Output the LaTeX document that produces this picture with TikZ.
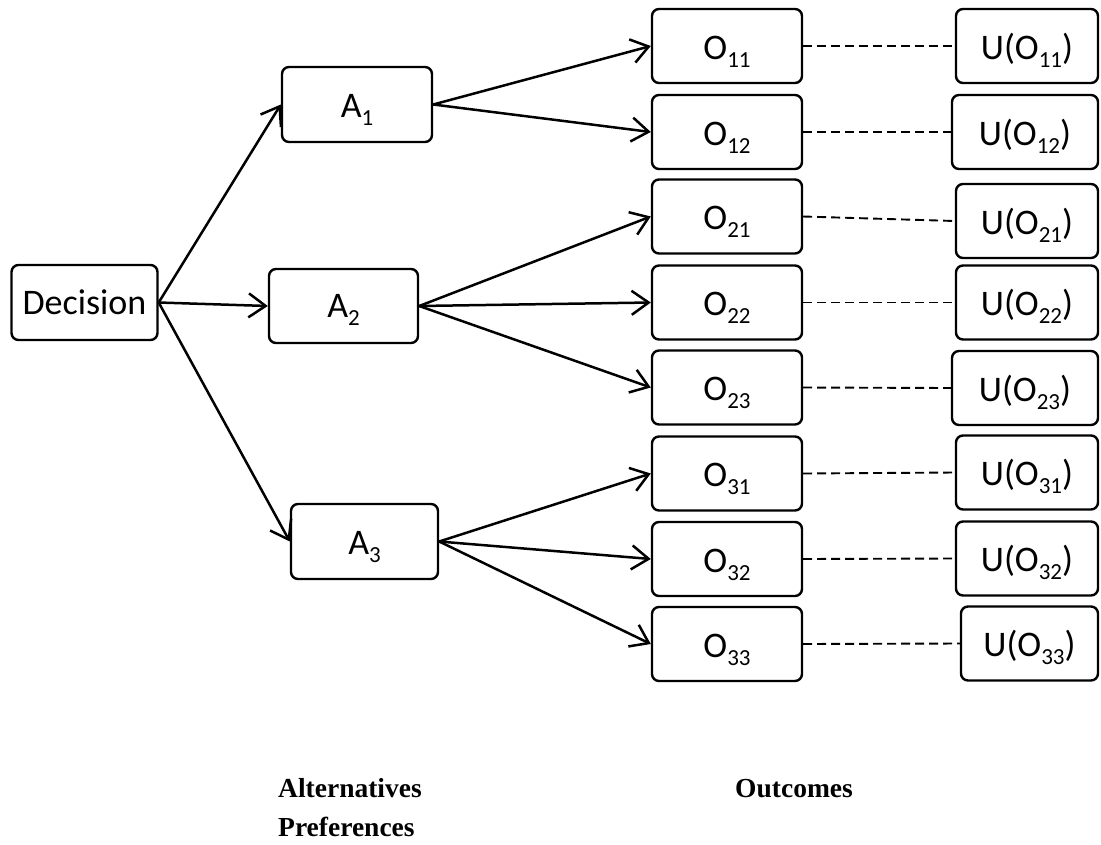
\documentclass[tikz,border=0pt]{standalone}
\usepackage{fontspec}
\setmainfont{Carlito}
\newfontfamily\labelfont{Liberation Serif}
\usetikzlibrary{arrows.meta}

% subscript in the box font
\newcommand{\sbs}[1]{\raisebox{-8pt}{\fontsize{23}{23}\selectfont #1}}

\tikzset{
  box/.style={draw, line width=2.4pt, rounded corners=7pt, inner sep=0pt,
    minimum height=74pt, text height=26pt, text depth=0pt,
    font=\fontsize{36}{40}\selectfont},
  obox/.style={box, minimum width=150pt},
  ubox/.style={box, minimum width=142pt},
  link/.style={line width=2.5pt, -{Straight Barb[length=17pt,width=24pt,line width=2.5pt]}},
  tie/.style={line width=1.9pt, dash pattern=on 9pt off 5pt},
  caption/.style={anchor=base west, inner sep=0pt,
    font=\labelfont\bfseries\fontsize{27.5}{30}\selectfont}
}

\begin{document}
\begin{tikzpicture}[x=1pt,y=-1pt]
\useasboundingbox (0,0) rectangle (1101,844);

% root and alternatives
\node[box, minimum width=146pt, minimum height=75pt, text height=23pt] (dec) at (84.5,302.5) {Decision};
\node[box, minimum width=150pt, minimum height=75pt, text height=25pt] (a1) at (357,104.5) {A\sbs{1}};
\node[box, minimum width=149pt, text height=23pt] (a2) at (343.5,306) {A\sbs{2}};
\node[box, minimum width=147pt, minimum height=75pt, text height=25pt] (a3) at (364.5,541.5) {A\sbs{3}};

% outcomes
\node[obox] (o11) at (727,46)    {O\sbs{11}};
\node[obox] (o12) at (727,132)   {O\sbs{12}};
\node[obox] (o21) at (727,216.5) {O\sbs{21}};
\node[obox] (o22) at (727,302.5) {O\sbs{22}};
\node[obox] (o23) at (727,387.5) {O\sbs{23}};
\node[obox] (o31) at (727,473.5) {O\sbs{31}};
\node[obox] (o32) at (727,559)   {O\sbs{32}};
\node[obox] (o33) at (727,644)   {O\sbs{33}};

% utilities
\node[ubox] (u11) at (1027,46)    {U(O\sbs{11})};
\node[ubox, minimum width=146pt] (u12) at (1025,132) {U(O\sbs{12})};
\node[ubox] (u21) at (1027,221)   {U(O\sbs{21})};
\node[ubox] (u22) at (1027,302.5) {U(O\sbs{22})};
\node[ubox, minimum width=146pt] (u23) at (1025,388) {U(O\sbs{23})};
\node[ubox] (u31) at (1027,472.5) {U(O\sbs{31})};
\node[ubox] (u32) at (1027,558.5) {U(O\sbs{32})};
\node[ubox, minimum width=137pt] (u33) at (1029.5,643.5) {U(O\sbs{33})};

% decision to alternatives
\draw[link] (dec.east) -- (a1.west);
\draw[link] (dec.east) -- (a2.west);
\draw[link] (dec.east) -- (a3.west);

% alternatives to outcomes
\draw[link] (a1.east) -- (o11.west);
\draw[link] (a1.east) -- (o12.west);
\draw[link] (a2.east) -- (o21.west);
\draw[link] (a2.east) -- (o22.west);
\draw[link] (a2.east) -- (o23.west);
\draw[link] (a3.east) -- (o31.west);
\draw[link] (a3.east) -- (o32.west);
\draw[link] (a3.east) -- (o33.west);

% outcomes to utilities
\foreach \k in {11,12,21,22,23,31,32,33}
  \draw[tie] (o\k.east) -- (u\k.west);

% captions
\node[caption] (calt) at (278,797) {Alternatives};
\node[caption] (cpref) at (278,836) {Preferences};
\node[caption] (cout) at (735,797) {Outcomes};
\end{tikzpicture}
\end{document}
